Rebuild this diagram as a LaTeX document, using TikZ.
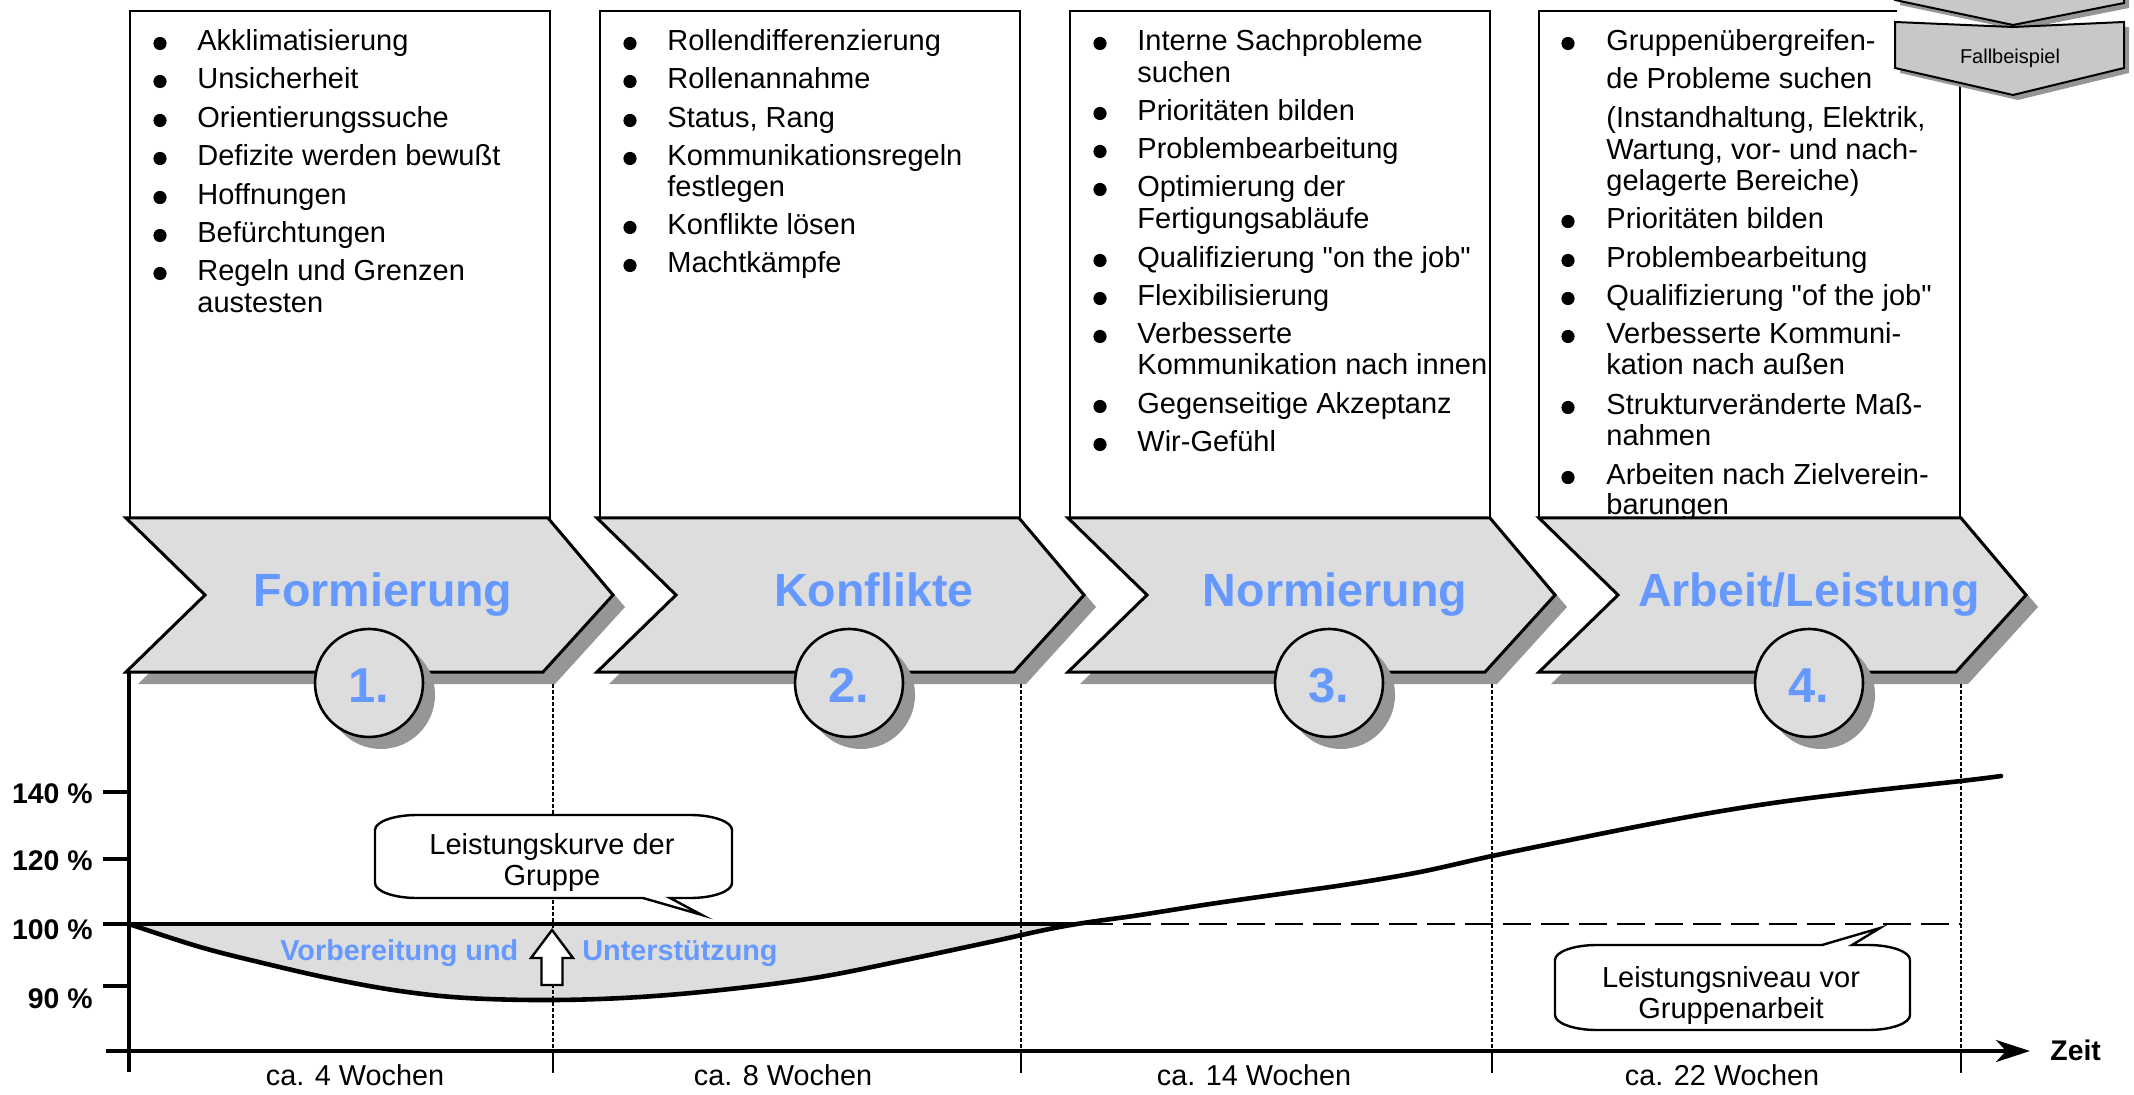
\documentclass[tikz,border=0pt]{standalone}
\usepackage{fontspec}
\setmainfont{Liberation Sans}
\usetikzlibrary{arrows.meta}

\definecolor{chevfill}{HTML}{DDDDDD}
\definecolor{shadowgray}{HTML}{969696}
\definecolor{phaseblue}{HTML}{6699FF}
\definecolor{tabfill}{HTML}{C8C8C8}

\tikzset{
  phasebox/.style={draw=black, fill=white, line width=1.3pt},
  itemtext/.style={anchor=base west, inner sep=0pt, font=\fontsize{14.5pt}{16pt}\selectfont},
  chevronshape/.style={fill=chevfill, draw=black, line width=1.5pt, line join=miter, miter limit=10},
  castshadow/.style={fill=shadowgray},
  phasetitle/.style={anchor=base, inner sep=0pt, text=phaseblue, font=\bfseries\fontsize{23.3pt}{26pt}\selectfont},
  phasenum/.style={anchor=base, inner sep=0pt, text=phaseblue, font=\bfseries\fontsize{24.5pt}{27pt}\selectfont},
  numdisc/.style={fill=chevfill, draw=black, line width=1.3pt},
  axisline/.style={line width=1.6pt},
  gridline/.style={line width=1.1pt, dash pattern=on 2pt off 1pt},
  axislabel/.style={anchor=base east, inner sep=0pt, font=\bfseries\fontsize{14.2pt}{16pt}\selectfont},
  weeklabel/.style={anchor=base, inner sep=0pt, font=\fontsize{14.4pt}{16pt}\selectfont},
  bubble/.style={draw=black, fill=white, line width=1.2pt, line join=miter},
  bubbletext/.style={anchor=base, inner sep=0pt, font=\fontsize{14.5pt}{16pt}\selectfont},
  bluenote/.style={anchor=base west, inner sep=0pt, text=phaseblue, font=\bfseries\fontsize{14.4pt}{16pt}\selectfont},
}

\begin{document}
\begin{tikzpicture}[x=0.5pt, y=-0.5pt]
\useasboundingbox (0,0) rectangle (2134,1095);
\clip (0,0) rectangle (2134,1095);

% ---- phase description boxes ----
\draw[phasebox] (130,11) rectangle (550,518);
\draw[phasebox] (600,11) rectangle (1020,518);
\draw[phasebox] (1070,11) rectangle (1490,518);
\fill[white] (1539,11) rectangle (1960,518);
\draw[line width=1.3pt] (1897,11) -- (1539,11) -- (1539,518) -- (1960,518) -- (1960,80);

% ---- bullet lists ----
\foreach \yy/\txt/\bb [count=\k] in {51/Akklimatisierung/1, 89/Unsicherheit/1, 128/Orientierungssuche/1,
    166/Defizite werden bewußt/1, 205/Hoffnungen/1, 243/Befürchtungen/1, 281/Regeln und Grenzen/1, 313/austesten/0}{
  \node[itemtext] (formA\k) at (197,\yy) {\txt};
  \ifnum\bb=1 \fill (160,\yy-7.5) circle[radius=3.3pt]; \fi
}
\foreach \yy/\txt/\bb [count=\k] in {51/Rollendifferenzierung/1, 89/Rollenannahme/1, 128/{Status, Rang}/1,
    166/Kommunikationsregeln/1, 197/festlegen/0, 235/Konflikte lösen/1, 273/Machtkämpfe/1}{
  \node[itemtext] (konfB\k) at (667,\yy) {\txt};
  \ifnum\bb=1 \fill (630,\yy-7.5) circle[radius=3.3pt]; \fi
}
\foreach \yy/\txt/\bb [count=\k] in {51/Interne Sachprobleme/1, 83/suchen/0, 121/Prioritäten bilden/1,
    159/Problembearbeitung/1, 197/Optimierung der/1, 229/Fertigungsabläufe/0,
    268/Qualifizierung \textquotedbl on the job\textquotedbl/1,
    306/Flexibilisierung/1, 344/Verbesserte/1, 375/Kommunikation nach innen/0, 414/Gegenseitige Akzeptanz/1,
    452/Wir-Gefühl/1}{
  \node[itemtext] (normC\k) at (1137,\yy) {\txt};
  \ifnum\bb=1 \fill (1100,\yy-7.5) circle[radius=3.3pt]; \fi
}
\foreach \yy/\txt/\bb [count=\k] in {51/Gruppenübergreifen-/1, 89/de Probleme suchen/0,
    128/{(Instandhaltung, Elektrik,}/0, 160/{Wartung, vor- und nach-}/0, 191/gelagerte Bereiche)/0,
    229/Prioritäten bilden/1, 268/Problembearbeitung/1, 306/Qualifizierung \textquotedbl of the job\textquotedbl/1,
    344/Verbesserte Kommuni-/1, 375/kation nach außen/0, 415/Strukturveränderte Maß-/1, 446/nahmen/0,
    485/Arbeiten nach Zielverein-/1, 515/barungen/0}{
  \node[itemtext] (arbD\k) at (1606,\yy) {\txt};
  \ifnum\bb=1 \fill (1568,\yy-7.5) circle[radius=3.3pt]; \fi
}

% ---- navigation tabs, top right ----
\fill[shadowgray] (1900,-10) -- (1900,5) -- (2018,30) -- (2129,8) -- (2129,-10) -- cycle;
\draw[fill=tabfill, line width=1pt] (1895,-10) -- (1895,0) -- (2013,25) -- (2124,3) -- (2124,-10);
\fill[shadowgray] (1900,27) -- (2018,32) -- (2129,27) -- (2129,73) -- (2018,100) -- (1900,73) -- cycle;
\draw[fill=tabfill, line width=1pt] (1895,22) -- (2013,27) -- (2124,22) -- (2124,68) -- (2013,95) -- (1895,68) -- cycle;
\node[anchor=base, inner sep=0pt, font=\fontsize{10pt}{12pt}\selectfont] (casetab) at (2010,64) {Fallbeispiel};

% ---- phase chevrons ----
\foreach \ox in {126,597,1068,1539}{
  \fill[castshadow] (\ox+12,530) -- (\ox+434,530) -- (\ox+499,607) -- (\ox+429,684) -- (\ox+12,684) -- (\ox+91,607) -- cycle;
  \draw[chevronshape] (\ox,518) -- (\ox+422,518) -- (\ox+487,595) -- (\ox+417,672) -- (\ox,672) -- (\ox+79,595) -- cycle;
}
\node[phasetitle] (tForm) at (383,607) {Formierung};
\node[phasetitle] (tKonf) at (874,607) {Konflikte};
\node[phasetitle] (tNorm) at (1335,607) {Normierung};
\node[phasetitle] (tArb) at (1809,607) {Arbeit/Leistung};

% ---- numbered discs ----
\foreach \cx/\num [count=\k] in {369/1, 849/2, 1329/3, 1809/4}{
  \fill[castshadow] (\cx+12,695) circle[radius=27pt];
  \draw[numdisc] (\cx,683) circle[radius=27pt];
  \node[phasenum] (num\k) at (\cx,702) {\num.};
}

% ---- performance chart ----
% dip below the initial level
\fill[chevfill] plot[smooth, tension=0.6] coordinates {(129,924) (200,947) (267,964) (333,979) (400,991)
  (467,998) (553,1000) (640,997) (730,989) (820,977) (910,959) (990,942) (1065,926)} -- cycle;

% phase separators
\foreach \gx in {553,1021,1492,1961}{
  \draw[gridline] (\gx,684) -- (\gx,1051);
  \draw[line width=1.2pt] (\gx,1051) -- (\gx,1073);
}

% 100 % reference level
\draw[line width=2.2pt] (129,924) -- (1078,924);
\draw[line width=1.3pt, dash pattern=on 14pt off 5pt] (1085,924) -- (1961,924);

% performance curve
\draw[line width=2.3pt, line cap=round] plot[smooth, tension=0.6] coordinates {(129,924) (200,947) (267,964)
  (333,979) (400,991) (467,998) (553,1000) (640,997) (730,989) (820,977) (910,959) (990,942) (1065,926)
  (1140,915) (1210,904) (1280,894) (1350,884) (1420,872) (1492,856) (1570,840) (1640,826) (1710,813)
  (1780,802) (1860,792) (1961,781) (2001,776)};

% axes
\draw[axisline] (129,672) -- (129,1072);
\foreach \ty in {792,859,924,986} \draw[axisline] (103,\ty) -- (129,\ty);
\draw[axisline, -{Stealth[length=17pt, width=11pt, inset=5pt]}] (106,1051) -- (2030,1051);
\node[axislabel] (p140) at (93,803) {140 \%};
\node[axislabel] (p120) at (93,870) {120 \%};
\node[axislabel] (p100) at (93,939) {100 \%};
\node[axislabel] (p90) at (93,1008) {90 \%};
\node[anchor=base west, inner sep=0pt, font=\bfseries\fontsize{14.2pt}{16pt}\selectfont] (zeit) at (2050,1060) {Zeit};

% durations
\node[weeklabel] (w1) at (355,1085) {ca. 4 Wochen};
\node[weeklabel] (w2) at (783,1085) {ca. 8 Wochen};
\node[weeklabel] (w3) at (1254,1085) {ca. 14 Wochen};
\node[weeklabel] (w4) at (1722,1085) {ca. 22 Wochen};

% speech bubbles
\draw[bubble] (417,815) -- (690,815) .. controls (713.2,815) and (732,821.7) .. (732,830) -- (732,883)
  .. controls (732,891.3) and (713.2,898) .. (690,898) -- (670,898) -- (702,915) -- (643,898) -- (417,898)
  .. controls (393.8,898) and (375,891.3) .. (375,883) -- (375,830)
  .. controls (375,821.7) and (393.8,815) .. (417,815) -- cycle;
\node[bubbletext] (curveA) at (552,854) {Leistungskurve der};
\node[bubbletext] (curveB) at (552,885) {Gruppe};

\draw[bubble] (1597,945) -- (1822,945) -- (1880,928) -- (1852,945) -- (1868,945)
  .. controls (1891.2,945) and (1910,951.7) .. (1910,960) -- (1910,1015)
  .. controls (1910,1023.3) and (1891.2,1030) .. (1868,1030) -- (1597,1030)
  .. controls (1573.8,1030) and (1555,1023.3) .. (1555,1015) -- (1555,960)
  .. controls (1555,951.7) and (1573.8,945) .. (1597,945) -- cycle;
\node[bubbletext] (levelA) at (1731,987) {Leistungsniveau vor};
\node[bubbletext] (levelB) at (1731,1018) {Gruppenarbeit};

% support arrow and caption
\draw[fill=white, line width=1.2pt, line join=miter] (552,930) -- (573,958) -- (562.5,958) -- (562.5,985)
  -- (541.5,985) -- (541.5,958) -- (531,958) -- cycle;
\node[bluenote] (prepA) at (280,960) {Vorbereitung und};
\node[bluenote] (prepB) at (582,960) {Unterstützung};

\end{tikzpicture}
\end{document}
